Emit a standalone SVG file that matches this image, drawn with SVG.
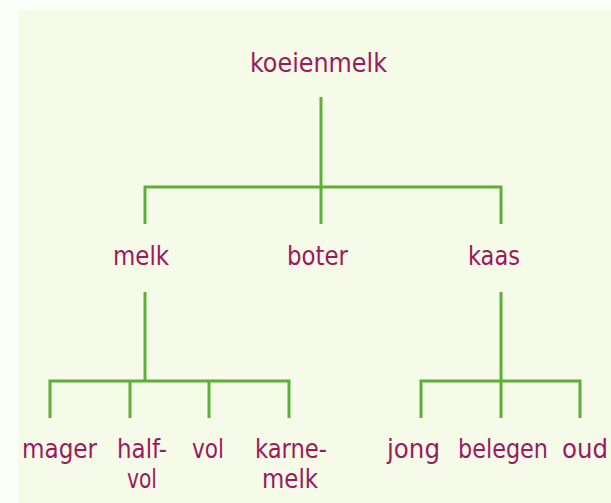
<svg xmlns="http://www.w3.org/2000/svg" width="611" height="503" viewBox="0 0 611 503">
  <style>
    .lbl { font-family: "DejaVu Sans Condensed", "DejaVu Sans", sans-serif; font-size: 26px; fill: #9b1a5b; text-anchor: middle; }
    .con { fill: none; stroke: #5fae37; stroke-width: 3; stroke-linecap: butt; stroke-linejoin: miter; }
  </style>
  <rect x="0" y="0" width="611" height="503" fill="#fcfef8"/>
  <rect x="18" y="10" width="593" height="493" fill="#f5fbe8"/>
  <g id="connectors">
    <path class="con" d="M321,97 V224"/>
    <path class="con" d="M145,224 V187 H501 V224"/>
    <path class="con" d="M145,292 V381"/>
    <path class="con" d="M50,418 V381 H289 V418"/>
    <path class="con" d="M130,381 V418"/>
    <path class="con" d="M209,381 V418"/>
    <path class="con" d="M501,292 V381"/>
    <path class="con" d="M421,418 V381 H580 V418"/>
    <path class="con" d="M501,381 V418"/>
  </g>
  <g id="koeienmelk"><text class="lbl" x="318.5" y="72" textLength="137" lengthAdjust="spacingAndGlyphs">koeienmelk</text></g>
  <g id="melk"><text class="lbl" x="141" y="265" textLength="56" lengthAdjust="spacingAndGlyphs">melk</text></g>
  <g id="boter"><text class="lbl" x="317.5" y="265" textLength="61" lengthAdjust="spacingAndGlyphs">boter</text></g>
  <g id="kaas"><text class="lbl" x="494" y="265" textLength="52" lengthAdjust="spacingAndGlyphs">kaas</text></g>
  <g id="mager"><text class="lbl" x="59.5" y="457.5" textLength="75" lengthAdjust="spacingAndGlyphs">mager</text></g>
  <g id="halfvol">
    <text class="lbl" x="142" y="457.5" textLength="50" lengthAdjust="spacingAndGlyphs">half-</text>
    <text class="lbl" x="142" y="488" textLength="30" lengthAdjust="spacingAndGlyphs">vol</text>
  </g>
  <g id="vol"><text class="lbl" x="208" y="457.5" textLength="32" lengthAdjust="spacingAndGlyphs">vol</text></g>
  <g id="karnemelk">
    <text class="lbl" x="291" y="457.5" textLength="72" lengthAdjust="spacingAndGlyphs">karne-</text>
    <text class="lbl" x="290" y="488" textLength="56" lengthAdjust="spacingAndGlyphs">melk</text>
  </g>
  <g id="jong"><text class="lbl" x="413.5" y="457.5" textLength="53" lengthAdjust="spacingAndGlyphs">jong</text></g>
  <g id="belegen"><text class="lbl" x="503" y="457.5" textLength="90" lengthAdjust="spacingAndGlyphs">belegen</text></g>
  <g id="oud"><text class="lbl" x="585" y="457.5" textLength="46" lengthAdjust="spacingAndGlyphs">oud</text></g>
</svg>
